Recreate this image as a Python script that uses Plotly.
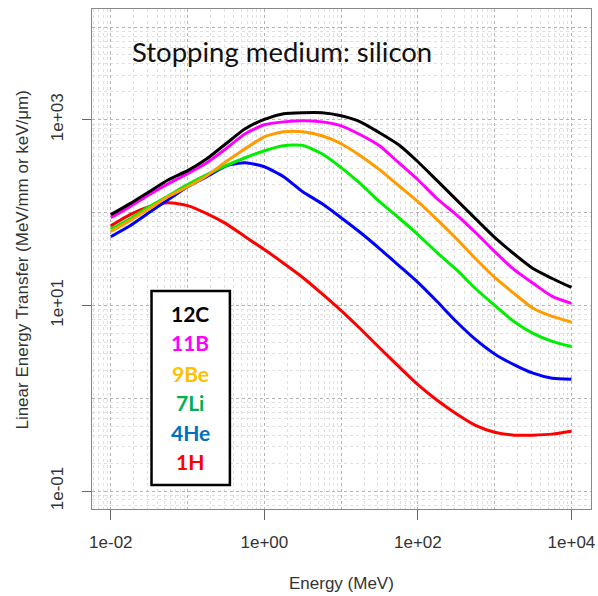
import plotly.graph_objects as go

# ---- data ----
energy_mev = [0.01, 0.0178, 0.0316, 0.0562, 0.1, 0.178, 0.316, 0.562, 1, 1.78, 3.16, 5.62,
              10, 17.8, 31.6, 56.2, 100, 178, 316, 562, 1000, 1780, 3160, 5620, 10000]

let_12C = [95, 125, 168, 226, 283, 380, 552, 800, 1012, 1160, 1190, 1190,
           1105, 950, 725, 538, 353, 221, 138, 86, 54, 36, 25, 19.5, 15.6]
let_11B = [88, 116, 156, 205, 263, 345, 488, 707, 884, 950, 976, 950,
           861, 690, 525, 345, 226, 141, 95, 61, 38, 24.4, 17.3, 12.5, 10.5]
let_9Be = [62.5, 82, 110, 149, 190, 250, 353, 488, 656, 743, 743, 673,
           552, 410, 290, 195, 131, 84, 52.5, 32, 20, 13.5, 9.3, 7.6, 6.6]
let_7Li = [66, 86, 116, 152, 200, 256, 320, 390, 464, 525, 530, 430,
           305, 205, 131, 88, 58, 37, 24.4, 15.2, 10, 6.7, 5.0, 4.1, 3.6]
let_4He = [55, 72, 100, 138, 190, 244, 318, 345, 312, 244, 168, 125,
           88, 61, 41, 27, 17.7, 11, 6.7, 4.3, 3.0, 2.3, 1.86, 1.64, 1.6]
let_1H = [72, 95, 116, 128, 119, 97.5, 76, 55, 40, 28.5, 20, 13.4,
          8.8, 5.6, 3.5, 2.2, 1.4, 0.95, 0.68, 0.51, 0.43, 0.40, 0.40, 0.41, 0.44]

series_names = ["12C", "11B", "9Be", "7Li", "4He", "1H"]
series_values = [let_12C, let_11B, let_9Be, let_7Li, let_4He, let_1H]
line_colors = ["#000000", "#ff00ff", "#ff9c00", "#00ee00", "#0000ff", "#ff0000"]
label_colors = ["#000000", "#ff00ff", "#ffc000", "#00b050", "#0070c0", "#ff0000"]

x_tick_vals = [1e-2, 1e0, 1e2, 1e4]
x_tick_text = ["1e-02", "1e+00", "1e+02", "1e+04"]
y_tick_vals = [1e-1, 1e1, 1e3]
y_tick_text = ["1e-01", "1e+01", "1e+03"]

x_range = [-2.245, 4.255]
y_range = [-1.194, 4.194]

fig = go.Figure()

# empty trace so the grid-only overlay subplot exists
fig.add_trace(go.Scatter(x=[], y=[], xaxis="x2", yaxis="y2", showlegend=False, hoverinfo="skip"))

# draw lowest-priority first so black is on top
for name, vals, col in reversed(list(zip(series_names, series_values, line_colors))):
    fig.add_trace(go.Scatter(
        x=energy_mev, y=vals, mode="lines", name=name,
        line=dict(color=col, width=3, shape="spline", smoothing=0.6),
        showlegend=False,
    ))

tick_font = dict(family="Liberation Sans, Arial, sans-serif", size=17, color="#333333")

fig.update_layout(
    width=598, height=596,
    margin=dict(l=92, r=3, t=9, b=87),
    paper_bgcolor="white", plot_bgcolor="white",
    showlegend=False,
    xaxis=dict(
        type="log", range=x_range, tickmode="array", tickvals=x_tick_vals, ticktext=x_tick_text,
        ticks="outside", ticklen=10, tickwidth=1, tickcolor="#666666", ticklabelstandoff=8,
        ticklabeloverflow="allow",
        showgrid=False, zeroline=False, showline=True, mirror=True,
        linecolor="#888888", linewidth=1, tickfont=tick_font,
    ),
    yaxis=dict(
        type="log", range=y_range, tickmode="array", tickvals=y_tick_vals, ticktext=y_tick_text,
        ticks="outside", ticklen=9, tickwidth=1, tickcolor="#666666", tickangle=-90,
        ticklabelstandoff=12, ticklabeloverflow="allow",
        showgrid=False, zeroline=False, showline=True, mirror=True,
        linecolor="#888888", linewidth=1, tickfont=tick_font,
    ),
    xaxis2=dict(
        type="log", range=x_range, overlaying="x", anchor="y2",
        tickmode="linear", tick0=0, dtick=1, showticklabels=False, ticks="",
        showgrid=True, gridcolor="#b4b4b4", gridwidth=1, griddash="dot",
        minor=dict(dtick="D1", showgrid=True, gridcolor="#e0e0e0", gridwidth=1, griddash="dot", ticks=""),
        zeroline=False, showline=False,
    ),
    yaxis2=dict(
        type="log", range=y_range, overlaying="y", anchor="x2",
        tickmode="linear", tick0=0, dtick=1, showticklabels=False, ticks="",
        showgrid=True, gridcolor="#b4b4b4", gridwidth=1, griddash="dot",
        minor=dict(dtick="D1", showgrid=True, gridcolor="#e0e0e0", gridwidth=1, griddash="dot", ticks=""),
        zeroline=False, showline=False,
    ),
)

# plot-area geometry in pixels (for paper coordinate annotations)
PX0, PX1, PY0, PY1 = 92, 595, 9, 509


def px(xp):
    return (xp - PX0) / (PX1 - PX0)


def py(yp):
    return (PY1 - yp) / (PY1 - PY0)


annotations = [
    dict(text="Stopping medium: silicon", x=px(283.5), y=py(52), xref="paper", yref="paper",
         showarrow=False, xanchor="center", yanchor="middle",
         font=dict(family="Lato, sans-serif", size=27.5, color="#111111")),
    dict(text="Linear Energy Transfer (MeV/mm or keV/\u03bcm)", x=px(21), y=py(260),
         xref="paper", yref="paper", showarrow=False, textangle=-90,
         xanchor="center", yanchor="middle",
         font=dict(family="Liberation Sans, Arial, sans-serif", size=17, color="#333333")),
    dict(text="Energy (MeV)", x=px(343.5), y=py(583), xref="paper", yref="paper",
         showarrow=False, xanchor="center", yanchor="middle",
         font=dict(family="Liberation Sans, Arial, sans-serif", size=17, color="#333333")),
]

label_y_px = [313, 343, 373, 402, 432, 461]
for name, col, ly in zip(series_names, label_colors, label_y_px):
    annotations.append(dict(
        text="<b>%s</b>" % name, x=px(191), y=py(ly), xref="paper", yref="paper",
        showarrow=False, xanchor="center", yanchor="middle",
        font=dict(family="Lato, sans-serif", size=21, color=col),
    ))

fig.update_layout(annotations=annotations)

fig.add_shape(type="rect", xref="paper", yref="paper",
              x0=px(152), x1=px(231), y0=py(485), y1=py(291),
              line=dict(color="#000000", width=2.5), fillcolor="white", layer="above")

fig.write_html("out.html")
